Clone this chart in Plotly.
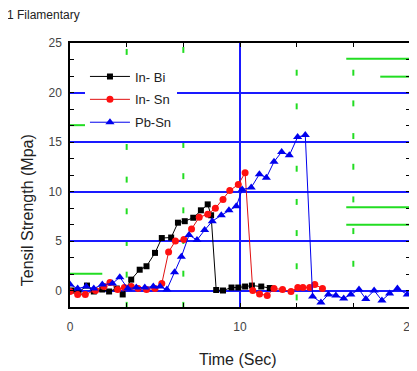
import plotly.graph_objects as go

# ---- data ----
inbi_x = [0.1, 0.5, 1.0, 1.4, 1.9, 2.3, 2.75, 3.1, 3.6, 4.1, 4.5, 5.0, 5.4, 5.95, 6.35, 6.75, 7.25, 7.7, 8.1, 8.3, 8.6, 9.0, 9.5, 9.9, 10.3, 10.7, 11.25, 11.75]
inbi_y = [0.0, -0.2, 0.5, -0.1, 0.1, -0.1, 0.2, -0.4, 1.1, 2.1, 2.45, 3.8, 5.3, 5.35, 6.85, 7.0, 7.35, 8.1, 8.7, 7.6, 0.05, 0.0, 0.3, 0.3, 0.4, 0.5, 0.4, 0.25]

insn_x = [0.0, 0.45, 0.9, 1.5, 2.0, 2.35, 2.8, 3.2, 3.6, 4.0, 4.5, 5.0, 5.4, 5.8, 6.2, 6.7, 7.15, 7.6, 8.1, 8.55, 9.0, 9.4, 9.9, 10.3, 10.75, 11.15, 11.6, 12.0, 12.5, 13.0, 13.4, 13.7, 14.1, 14.4, 14.85]
insn_y = [-0.1, -0.4, -0.4, 0.0, 0.4, 0.8, 0.1, 0.3, 0.4, 0.2, 0.1, 0.2, 0.7, 3.9, 5.0, 5.15, 6.2, 7.4, 7.7, 8.3, 9.2, 10.1, 10.7, 11.9, 0.0, -0.35, -0.5, 0.2, 0.1, -0.1, 0.3, 0.3, 0.3, 0.6, 0.2]

pbsn_x = [0.0, 0.45, 0.95, 1.4, 1.9, 2.5, 2.93, 3.4, 3.9, 4.4, 4.9, 5.3, 5.7, 6.15, 6.55, 7.0, 7.47, 7.92, 8.37, 8.9, 9.35, 9.78, 10.13, 10.66, 11.14, 11.55, 12.0, 12.45, 12.9, 13.39, 13.84, 14.27, 14.76, 15.2, 15.64, 16.1, 16.52, 17.0, 17.4, 17.89, 18.35, 18.8, 19.26, 19.84]
pbsn_y = [0.6, 0.2, 0.4, 0.2, 0.6, 0.7, 1.35, 0.2, 0.3, 0.3, 0.4, 0.4, 0.1, 1.85, 3.4, 5.6, 5.1, 6.1, 7.0, 7.6, 8.1, 8.5, 10.2, 10.4, 11.75, 11.4, 13.0, 14.0, 13.65, 15.5, 15.7, -0.6, -1.2, -0.4, -0.5, -0.8, -0.4, 0.1, -0.85, 0.0, -1.0, -0.3, 0.2, -0.4]

series_names = ["In- Bi", "In- Sn", "Pb-Sn"]

x_major = [0, 10, 20]
x_minor = [10 / 3, 20 / 3, 40 / 3, 50 / 3]
y_major = [0, 5, 10, 15, 20, 25]
y_minor = [-5 / 3 + i * 5 / 3 for i in range(17)]

# scan artefacts: short green vertical dashes and green horizontal strokes
green_dash_cols = [10 / 3, 20 / 3, 40 / 3, 50 / 3]
green_dash_rows = [
    [24.1, 14.5, 11.2, 8.0, 4.8, 1.6, -1.45],
    [24.3, 14.7, 11.55, 8.1, 5.0, 1.7, -1.45],
    [22.0, 18.6, 12.3, 8.95, 5.8, 2.45, -0.7],
    [22.0, 18.9, 15.6, 12.5, 9.2, 6.0, 2.7],
]
green_hlines = [(16.25, 20, 23.4), (18.25, 20, 21.6), (0, 0.9, 16.7), (0, 1.9, 1.7), (16.25, 20, 8.4), (16.25, 20, 6.65)]

fig = go.Figure()
fig.add_trace(go.Scatter(x=inbi_x, y=inbi_y, name=series_names[0], mode="lines+markers",
                         line=dict(color="black", width=1), marker=dict(symbol="square", size=6, color="black"),
                         legendgroup="a"))
fig.add_trace(go.Scatter(x=insn_x, y=insn_y, name=series_names[1], mode="lines+markers",
                         line=dict(color="#e01010", width=1), marker=dict(symbol="circle", size=7, color="#ff1010"),
                         legendgroup="b"))
fig.add_trace(go.Scatter(x=pbsn_x, y=pbsn_y, name=series_names[2], mode="lines+markers",
                         line=dict(color="#0000ee", width=1), marker=dict(symbol="triangle-up", size=8, color="#0000ee"),
                         legendgroup="c"))

shapes = []
for cx, rows in zip(green_dash_cols, green_dash_rows):
    for cy in rows:
        shapes.append(dict(type="line", xref="x", yref="y", x0=cx, x1=cx, y0=cy - 0.3, y1=cy + 0.3,
                           line=dict(color="#22dd22", width=2), layer="below"))
for x0, x1, yy in green_hlines:
    shapes.append(dict(type="line", xref="x", yref="y", x0=x0, x1=x1, y0=yy, y1=yy,
                       line=dict(color="#22dd22", width=2), layer="below"))

font_family = "Liberation Sans, Arial, sans-serif"
fig.update_layout(
    width=417, height=363,
    margin=dict(l=62, r=15, t=35, b=64),
    plot_bgcolor="white", paper_bgcolor="white",
    font=dict(family=font_family, size=12, color="#333"),
    showlegend=True,
    legend=dict(x=0.044, y=0.93, xanchor="left", yanchor="top", bgcolor="white",
                font=dict(size=13, color="#222"), tracegroupgap=3, itemwidth=40),
    shapes=shapes,
    annotations=[
        dict(text="1 Filamentary", x=-0.191, y=1.106, xref="paper", yref="paper", showarrow=False,
             xanchor="left", yanchor="middle", font=dict(size=12, color="#222")),
        dict(text="Tensil Strength (Mpa)", x=-0.126, y=0.367, xref="paper", yref="paper",
             textangle=-90, showarrow=False, xanchor="center", yanchor="middle",
             font=dict(size=16, color="#222")),
        dict(text="Time (Sec)", x=0.494, y=-0.197, xref="paper", yref="paper", showarrow=False,
             xanchor="center", yanchor="middle", font=dict(size=16, color="#222")),
    ],
)

fig.update_xaxes(range=[0, 20], tickvals=x_major, ticks="inside", ticklen=4, tickcolor="black",
                 showline=True, linecolor="black", linewidth=1.5, mirror="ticks",
                 showgrid=True, gridcolor="#1a1aff", gridwidth=1.5, zeroline=False,
                 ticklabelstandoff=8, automargin=False, ticklabeloverflow="allow",
                 minor=dict(tickvals=x_minor, ticks="inside", ticklen=4, tickcolor="black", showgrid=False),
                 tickfont=dict(size=12, color="#444"))
fig.update_yaxes(range=[-5 / 3, 25], tickvals=y_major, ticks="inside", ticklen=4, tickcolor="black",
                 showline=True, linecolor="black", linewidth=1.5, mirror="ticks",
                 showgrid=True, gridcolor="#1a1aff", gridwidth=1.5, zeroline=False,
                 ticklabelstandoff=4, automargin=False,
                 minor=dict(tickvals=y_minor, ticks="inside", ticklen=4, tickcolor="black", showgrid=False),
                 tickfont=dict(size=12, color="#444"))

fig.write_html("out.html")
